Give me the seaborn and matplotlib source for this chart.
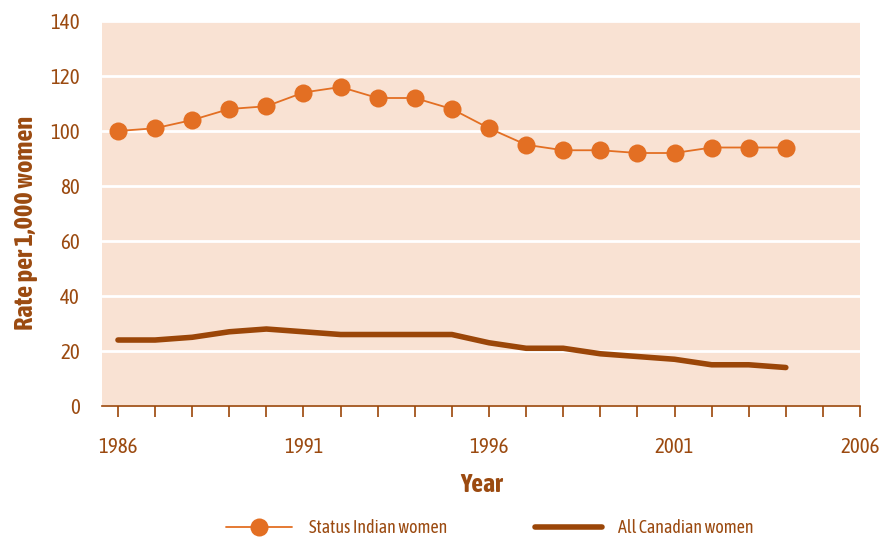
import matplotlib
matplotlib.use("Agg")
import matplotlib.pyplot as plt
from matplotlib.ticker import MultipleLocator
import seaborn as sns
import pandas as pd

years = list(range(1986, 2005))
status_indian = [100, 101, 104, 108, 109, 114, 116, 112, 112, 108, 101, 95, 93, 93, 92, 92, 94, 94, 94]
all_canadian = [24, 24, 25, 27, 28, 27, 26, 26, 26, 26, 23, 21, 21, 19, 18, 17, 15, 15, 14]
labels = ["Status Indian women", "All Canadian women"]
year_ticks = [1986, 1991, 1996, 2001, 2006]

ORANGE = "#E36F23"
BROWN = "#9B4608"
TEXT = "#9B4A10"
PANEL = "#F9E2D3"

sns.set_theme(style="white")
plt.rcParams["font.family"] = ["Asap Condensed", "Open Sans", "DejaVu Sans"]

df = pd.DataFrame({"Year": years, "status": status_indian, "all": all_canadian})

fig = plt.figure(figsize=(8.81, 5.37), dpi=100)
ax = fig.add_axes([0.1158, 0.2439, 0.8604, 0.7170])
ax.set_facecolor(PANEL)

sns.lineplot(data=df, x="Year", y="status", ax=ax, color=ORANGE, linewidth=1.3,
             marker="o", markersize=13, markeredgewidth=0, label=labels[0])
sns.lineplot(data=df, x="Year", y="all", ax=ax, color=BROWN, linewidth=4,
             solid_capstyle="round", label=labels[1])

ax.set_xlim(1985.57, 2006)
ax.set_ylim(0, 140)
ax.yaxis.set_major_locator(MultipleLocator(20))
ax.set_xticks(year_ticks)
ax.xaxis.set_minor_locator(MultipleLocator(1))
ax.grid(axis="y", color="white", linewidth=2)
ax.set_axisbelow(True)

for side in ["top", "right", "left"]:
    ax.spines[side].set_visible(False)
ax.spines["bottom"].set_color(BROWN)
ax.spines["bottom"].set_linewidth(1.2)

ax.tick_params(axis="x", which="both", direction="out", length=8, width=1.2,
               color=BROWN, labelcolor=TEXT, labelsize=15, bottom=True)
ax.tick_params(axis="x", which="major", pad=14)
ax.tick_params(axis="y", length=0, labelcolor=TEXT, labelsize=15, pad=16)

ax.set_xlabel("Year", fontsize=18.5, fontweight="bold", color=TEXT)
ax.xaxis.set_label_coords(0.5, -0.205)
ax.xaxis.label.set_va("center")

ax.set_ylabel("Rate per 1,000 women", fontsize=19, fontweight="bold", color=TEXT)
ax.yaxis.set_label_coords(-0.1016, 0.4766)
ax.yaxis.label.set_va("center")

ax.legend_.remove()
handles, lbls = ax.get_legend_handles_labels()
leg = fig.legend(handles, lbls, loc="lower center", bbox_to_anchor=(0.556, -0.031), ncol=2,
                 frameon=False, fontsize=13, handlelength=3.66, columnspacing=4.9,
                 handletextpad=0.93)
for t in leg.get_texts():
    t.set_color(TEXT)

fig.savefig("out.png", dpi=100)
